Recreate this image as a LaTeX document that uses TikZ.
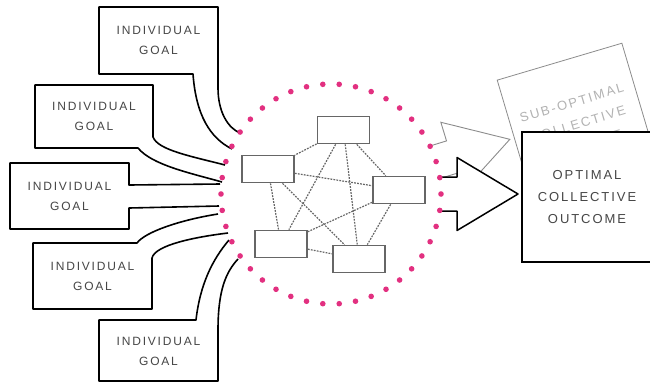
\documentclass[tikz,border=0pt]{standalone}
\usepackage{fontspec}
\usepackage{tikz}
\usetikzlibrary{calc}
\newfontfamily\goalfont[LetterSpace=15]{Liberation Sans}
\definecolor{dotpink}{RGB}{226,48,128}
\definecolor{textgray}{RGB}{70,70,70}
\tikzset{
  goal box/.style = {draw=black, line width=1.6pt, fill=white, line join=round},
  goal text/.style = {text=textgray, align=center, font=\goalfont\fontsize{12}{20}\selectfont},
  member/.style = {draw=black!60, line width=1.8pt, fill=white, minimum width=52pt, minimum height=27pt, inner sep=0pt},
  link/.style = {draw=black!60, line width=1.2pt, dash pattern=on 1.8pt off 1.2pt},
  outcome/.style = {minimum width=130pt, minimum height=130pt, inner sep=0pt, align=center, font=\goalfont\fontsize{13}{22}\selectfont}
}

\begin{document}
\begin{tikzpicture}[x=1pt,y=-1pt]
  \clip (0,0) rectangle (650,384);
  \coordinate (c) at (331,194);

  % the two ways out of the group
  \draw[black!45, line width=0.9pt, fill=white, shift={(c)}, rotate=17]
    (108,-17) -- (126,-17) -- (126,-36.5) -- (187,0) -- (126,36.5) -- (126,17) -- (108,17);
  \node[outcome, draw=black!45, line width=0.8pt, fill=white, text=black!30, rotate=16.5] (subopt) at (578,124) {SUB-OPTIMAL\\COLLECTIVE\\OUTCOME};
  \draw[black, line width=1.5pt, fill=white, line join=round, shift={(c)}]
    (108,-17) -- (126,-17) -- (126,-36.5) -- (187,0) -- (126,36.5) -- (126,17) -- (108,17);
  \node[outcome, draw=black, line width=1.8pt, fill=white, text=textgray] (opt) at (587,197) {OPTIMAL\\COLLECTIVE\\OUTCOME};

  % goals with their tails
  \draw[goal box] (240,133) .. controls (228,128) and (218,112) .. (218,88) -- (218,7) -- (99,7) -- (99,74) -- (193,74) .. controls (196,115) and (210,138) .. (232,149);
  \draw[goal box] (225,165) .. controls (190,156) and (158,150) .. (153,137) -- (153,85) -- (35,85) -- (35,148) -- (138,148) .. controls (152,165) and (190,173) .. (222,182);
  \draw[goal box] (220,184) -- (129,185) -- (129,163) -- (10,163) -- (10,229) -- (129,229) -- (129,208) -- (219,206);
  \draw[goal box] (218,214) .. controls (180,220) and (145,232) .. (137,243) -- (33,243) -- (33,309) -- (152,309) -- (152,258) .. controls (155,245) and (195,237) .. (228,233);
  \draw[goal box] (229,240) .. controls (212,260) and (200,285) .. (196,320) -- (99,320) -- (99,381) -- (218,381) -- (218,330) .. controls (218,290) and (226,272) .. (238,259);

  \node[goal text] (g1) at (158.5,40.5) {INDIVIDUAL\\GOAL};
  \node[goal text] (g2) at (94,116.5) {INDIVIDUAL\\GOAL};
  \node[goal text] (g3) at (69.5,196) {INDIVIDUAL\\GOAL};
  \node[goal text] (g4) at (92.5,276) {INDIVIDUAL\\GOAL};
  \node[goal text] (g5) at (158.5,351) {INDIVIDUAL\\GOAL};

  % the group
  \foreach \k in {0,...,41}
    \fill[dotpink] ($(c)+(\k*360/42:110)$) circle (2.8pt);

  \node[member] (m1) at (343.5,130) {};
  \node[member] (m2) at (268,169) {};
  \node[member] (m3) at (399,190) {};
  \node[member] (m4) at (281,244) {};
  \node[member] (m5) at (359,259) {};
  \foreach \i/\j in {1/2,1/3,1/4,1/5,2/3,2/4,2/5,3/4,3/5,4/5}
    \draw[link] (m\i) -- (m\j);

\end{tikzpicture}
\end{document}
